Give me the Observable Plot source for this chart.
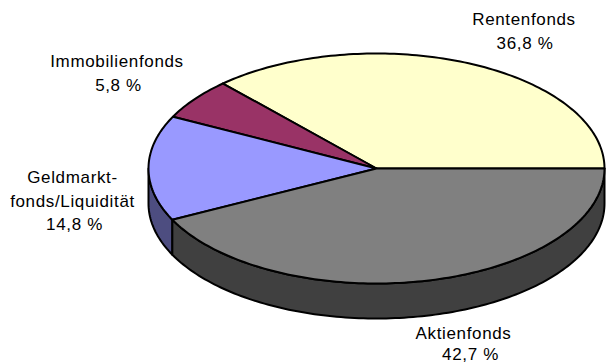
<!DOCTYPE html>
<html>
<head>
<meta charset="utf-8">
<style>html,body{margin:0;padding:0;background:#fff}svg{display:block}</style>
<script src="https://cdn.jsdelivr.net/npm/d3@7"></script>
<script src="https://cdn.jsdelivr.net/npm/@observablehq/plot@0.6"></script>
</head>
<body>
<script>
const categories = ["Rentenfonds", "Immobilienfonds", "Geldmarkt-fonds/Liquidität", "Aktienfonds"];
const shares = [36.8, 5.8, 14.8, 42.7];
const shareLabels = ["36,8 %", "5,8 %", "14,8 %", "42,7 %"];
const topColors = ["#FFFFCC", "#993366", "#9999FF", "#808080"];
const wallColors = ["#808066", "#4D1A33", "#4D4D80", "#404040"];

// Layout of the drawing, in pixels
const W = 606, H = 364, CX = 376, CY = 168, RX = 228, RY = 115, DEPTH = 35;

// Slice angles come from the values; angle grows anticlockwise from due east
const total = d3.sum(shares);
let running = 0;
const slices = categories.map((name, i) => {
  const a0 = running / total * 2 * Math.PI;
  running += shares[i];
  return {name, a0, a1: running / total * 2 * Math.PI, top: topColors[i], wall: wallColors[i]};
});

const arc = (a0, a1, drop = 0) => {
  const n = Math.max(2, Math.ceil((a1 - a0) / 0.02));
  return d3.range(n + 1).map(k => {
    const a = a0 + (a1 - a0) * k / n;
    return {u: Math.cos(a), v: Math.sin(a) - drop};
  });
};
const drop = DEPTH / RY;
const close = pts => [...pts, pts[0]];
const topShape = s => close([{u: 0, v: 0}, ...arc(s.a0, s.a1)]);
// Only the front half of the ellipse (angles past 180 degrees) has a visible wall
const wallShape = s => {
  const a0 = Math.max(s.a0, Math.PI);
  if (s.a1 <= a0) return null;
  return close([...arc(a0, s.a1), ...arc(a0, s.a1, drop).reverse()]);
};

const ol = {x: "u", y: "v", stroke: "#000", strokeWidth: 2, strokeLinejoin: "round", curve: "linear"};

// Label lines, each placed in pixel space and converted to the chart's units
const labelLines = [
  {t: "Rentenfonds", px: 523.5, py: 19},
  {t: shareLabels[0], px: 524.5, py: 43},
  {t: "Immobilienfonds", px: 116.5, py: 61},
  {t: shareLabels[1], px: 118, py: 85},
  {t: "Geldmarkt-", px: 72, py: 177},
  {t: "fonds/Liquidität", px: 72, py: 201},
  {t: shareLabels[2], px: 74, py: 224},
  {t: "Aktienfonds", px: 463, py: 333},
  {t: shareLabels[3], px: 470, py: 354.5}
].map(d => ({t: d.t, u: (d.px - CX) / RX, v: (CY - d.py) / RY}));

const chart = Plot.plot({
  width: W, height: H,
  margin: 0,
  style: {background: "#fff", fontFamily: "'Liberation Sans', Arial, sans-serif", letterSpacing: "0.65px"},
  x: {axis: null, domain: [-CX / RX, (W - CX) / RX], range: [0, W]},
  y: {axis: null, domain: [(CY - H) / RY, CY / RY], range: [H, 0]},
  marks: [
    ...slices.filter(wallShape).map(s => Plot.line(wallShape(s), {...ol, fill: s.wall})),
    ...slices.map(s => Plot.line(topShape(s), {...ol, fill: s.top})),
    Plot.text(labelLines, {x: "u", y: "v", text: "t", fontSize: 17, fill: "#000", textAnchor: "middle", lineAnchor: "middle"})
  ]
});
document.body.appendChild(chart);
</script>
</body>
</html>
